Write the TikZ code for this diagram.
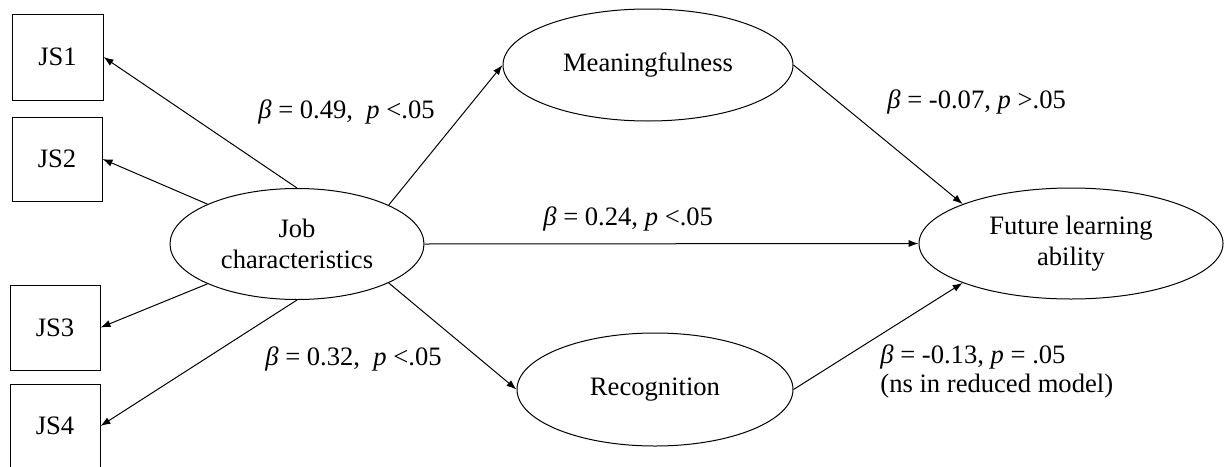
\documentclass[tikz,border=0pt]{standalone}
\usepackage{fontspec}
\setmainfont{Liberation Serif}
\usetikzlibrary{shapes.geometric,arrows.meta}
\begin{document}
\begin{tikzpicture}[x=0.5pt,y=-0.5pt,
  lat/.style={ellipse,draw,line width=0.5pt,inner sep=0pt,align=center,font=\fontsize{13.3}{15.5}\selectfont},
  ind/.style={rectangle,draw,line width=0.5pt,inner sep=0pt,font=\fontsize{13.3}{16}\selectfont},
  arr/.style={line width=0.5pt,-{Latex[length=5pt,width=3.6pt]}},
  lab/.style={inner sep=0pt,anchor=base west,align=left,font=\fontsize{13.3}{14.5}\selectfont}]
\useasboundingbox (0,0) rectangle (1224,466);
% indicators
\node[ind,minimum width=45.5pt,minimum height=43pt] (js1) at (57.5,57) {JS1};
\node[ind,minimum width=45pt,minimum height=42pt] (js2) at (57,159) {JS2};
\node[ind,minimum width=45pt,minimum height=42.5pt] (js3) at (55,327.5) {JS3};
\begin{scope}
\clip (0,0) rectangle (1224,466);
\node[ind,minimum width=45pt,minimum height=42pt] (js4) at (55,426) {JS4};
\end{scope}
% latents
\node[lat,minimum width=127pt,minimum height=55.5pt] (job) at (297,244) {Job\\characteristics};
\node[lat,minimum width=145pt,minimum height=56pt] (mean) at (648,65) {Meaningfulness};
\node[lat,minimum width=138pt,minimum height=56.5pt] (rec) at (655,389.5) {Recognition};
\node[lat,minimum width=152pt,minimum height=55.5pt] (fla) at (1071,243.5) {Future learning\\ability};
% loadings
\draw[arr] (job.north) -- (js1.east);
\draw[arr] (job.156) -- (js2.east);
\draw[arr] (job.204) -- (js3.east);
\draw[arr] (job.south) -- (js4.east);
% structural paths
\draw[arr] (job.23) -- (mean.west);
\draw[arr] (job.east) -- (fla.west);
\draw[arr] (job.-23) -- (rec.west);
\draw[arr] (mean.east) -- (fla.160);
\draw[arr] (rec.east) -- (fla.200);
% labels
\node[lab] (l1) at (258,118) {{\itshape β} = 0.49,\ \ {\itshape p} <.05};
\node[lab] (l2) at (543,225) {{\itshape β} = 0.24, {\itshape p} <.05};
\node[lab] (l3) at (265,365) {{\itshape β} = 0.32,\ \ {\itshape p} <.05};
\node[lab] (l4) at (887,108) {{\itshape β} = -0.07, {\itshape p} >.05};
\node[lab] (l5) at (880,392) {{\itshape β} = -0.13, {\itshape p} = .05\\(ns in reduced model)};
\end{tikzpicture}
\end{document}
